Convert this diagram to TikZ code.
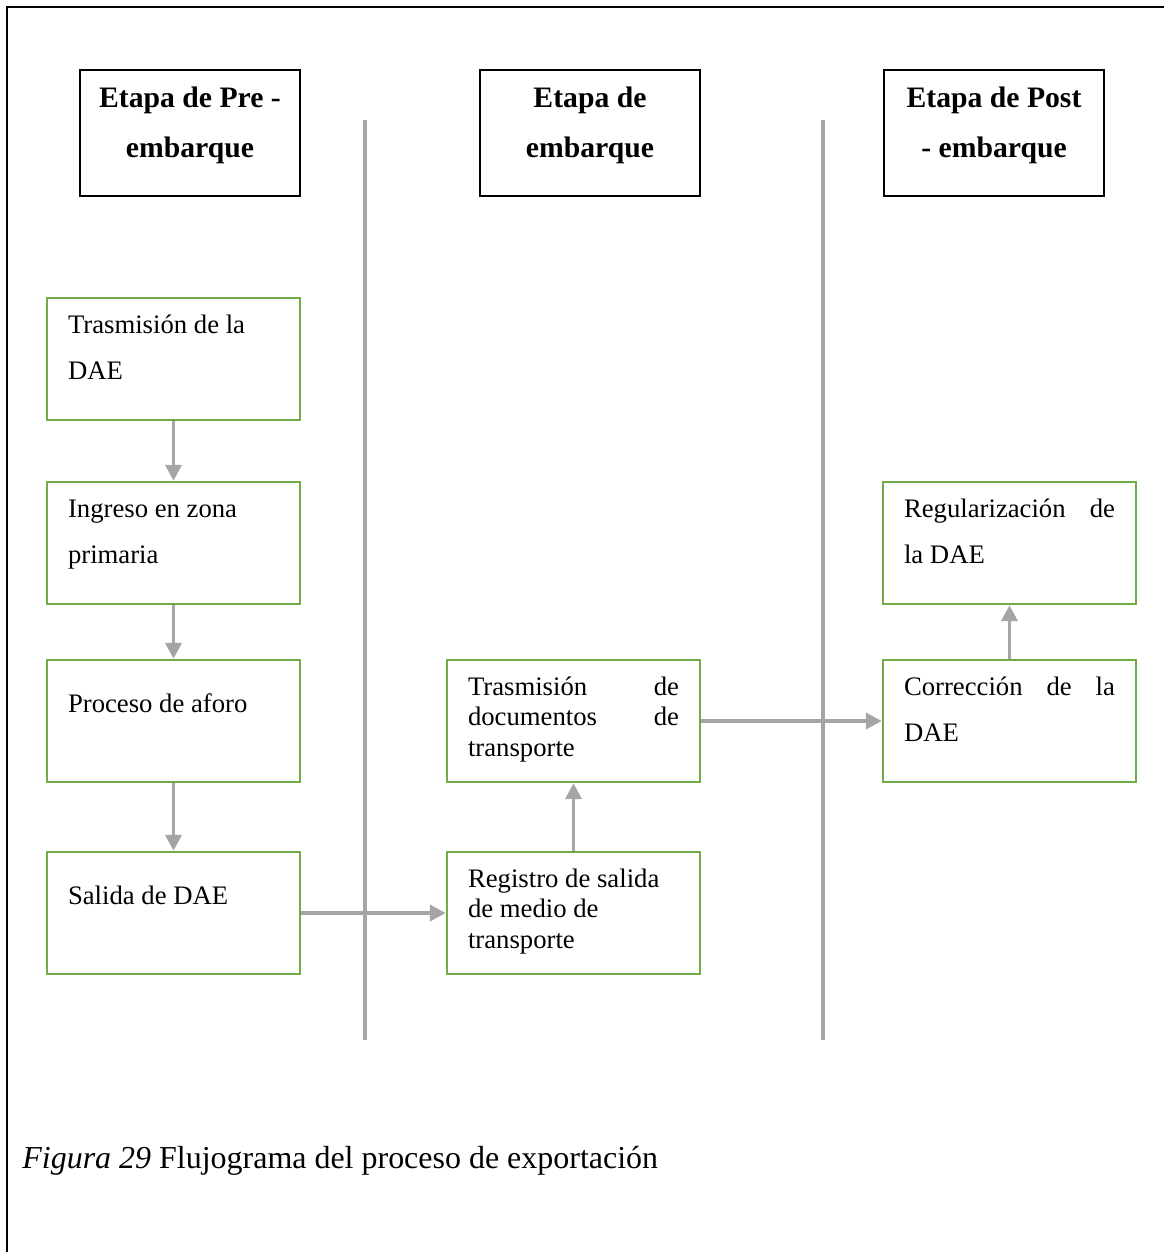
\documentclass[tikz,border=0pt]{standalone}
\usepackage{fontspec}
\setmainfont{Liberation Serif}
\usetikzlibrary{arrows.meta}

\definecolor{verde}{HTML}{70AD47}
\definecolor{gris}{HTML}{A5A5A5}

% text inside the boxes: #1 first baseline, #2 line spacing
\newcommand{\pasotexto}[3]{\parbox[t][2.44cm][t]{4.22cm}{\fontsize{15.2}{#2}\selectfont\raggedright\rule{0pt}{#1}#3}}
\newcommand{\etapatexto}[1]{\parbox[t][2.52cm][t]{4.2cm}{\fontsize{16.9}{29}\selectfont\bfseries\centering\rule{0pt}{0.74cm}#1}}

\tikzset{
  etapa/.style={draw=black, line width=0.75pt, inner xsep=0.1cm, inner ysep=0pt},
  paso/.style={draw=verde, line width=1.4pt, inner xsep=0.42cm, inner ysep=0pt},
  carril/.style={draw=gris, line width=2.8pt},
  flecha/.style={draw=gris, line width=2.2pt, -{Triangle[length=0.32cm,width=0.32cm]}}
}

\begin{document}
\begin{tikzpicture}[x=0.02cm, y=-0.02cm]
  \useasboundingbox (0,0) rectangle (1164,1252);
  \draw[line width=0.75pt] (7,1252) -- (7,7) -- (1164,7);

  % stages
  \node[etapa] (pre)  at (190,133) {\etapatexto{Etapa de Pre -\\embarque}};
  \node[etapa] (emb)  at (590,133) {\etapatexto{Etapa de\\embarque}};
  \node[etapa] (post) at (994,133) {\etapatexto{Etapa de Post\\- embarque}};

  \draw[carril] (365,120) -- (365,1040);
  \draw[carril] (823,120) -- (823,1040);

  % pre-embarque
  \node[paso] (trasdae) at (173.5,359) {\pasotexto{0.70cm}{26.2}{Trasmisión de la\\DAE}};
  \node[paso] (ingreso) at (173.5,543) {\pasotexto{0.70cm}{26.2}{Ingreso en zona\\primaria}};
  \node[paso] (aforo)   at (173.5,721) {\pasotexto{1.05cm}{26.2}{Proceso de aforo}};
  \node[paso] (salida)  at (173.5,913) {\pasotexto{1.05cm}{26.2}{Salida de DAE}};

  % embarque
  \node[paso] (registro) at (573.5,913) {\pasotexto{0.70cm}{17.6}{Registro de salida\\de medio de\\transporte}};
  \node[paso] (docs) at (573.5,721) {\pasotexto{0.70cm}{17.6}{Trasmisión\hfill de\\documentos\hfill de\\transporte}};

  % post-embarque
  \node[paso] (correccion) at (1009.5,721) {\pasotexto{0.70cm}{26.2}{Corrección\hfill de\hfill la\\DAE}};
  \node[paso] (regular) at (1009.5,543) {\pasotexto{0.70cm}{26.2}{Regularización\hfill de\\la DAE}};

  \draw[flecha] (trasdae) -- (ingreso);
  \draw[flecha] (ingreso) -- (aforo);
  \draw[flecha] (aforo) -- (salida);
  \draw[flecha] (salida) -- (registro);
  \draw[flecha] (registro) -- (docs);
  \draw[flecha] (docs) -- (correccion);
  \draw[flecha] (correccion) -- (regular);

  \node[anchor=base west, inner sep=0pt, font=\fontsize{18.2}{22}\selectfont] (pie) at (22,1168)
    {\textit{Figura 29} Flujograma del proceso de exportación};
\end{tikzpicture}
\end{document}
